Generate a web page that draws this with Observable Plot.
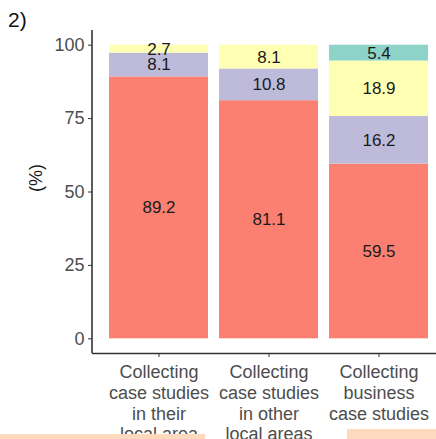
<!DOCTYPE html>
<html>
<head>
<meta charset="utf-8">
<script src="https://cdn.jsdelivr.net/npm/d3@7"></script>
<script src="https://cdn.jsdelivr.net/npm/@observablehq/plot@0.6"></script>
<style>
  html, body { margin: 0; padding: 0; background: #fff; }
  #wrap { position: relative; width: 436px; height: 439px; overflow: hidden; font-family: "Liberation Sans", Arial, sans-serif; }
  #tag { position: absolute; left: 8px; top: 8px; font-size: 21px; color: #111; }
  .strip { position: absolute; background: #FDD9BE; }
</style>
</head>
<body>
<div id="wrap">
  <div id="tag">2)</div>
  <div class="strip" style="left:0px; top:434px; width:205px; height:5px;"></div>
  <div class="strip" style="left:347px; top:429px; width:89px; height:10px;"></div>
</div>
<script>
const categories = [
  "Collecting\ncase studies\nin their\nlocal area",
  "Collecting\ncase studies\nin other\nlocal areas",
  "Collecting\nbusiness\ncase studies"
];
const series = ["s1", "s2", "s3", "s4"];
const seriesColors = ["#FB8072", "#BEBADA", "#FFFFB3", "#8DD3C7"];
const values1 = [89.2, 8.1, 2.7, 0];
const values2 = [81.1, 10.8, 8.1, 0];
const values3 = [59.5, 16.2, 18.9, 5.4];
const yTicks = [0, 25, 50, 75, 100];
const yLabel = "(%)";

const allValues = [values1, values2, values3];
const data = [];
categories.forEach((c, i) => {
  series.forEach((s, j) => {
    const v = allValues[i][j];
    if (v > 0) data.push({category: c, series: s, value: v});
  });
});

const font = '"Liberation Sans", Arial, sans-serif';

const plot = Plot.plot({
  width: 436,
  height: 439,
  marginTop: 30,
  marginBottom: 86,
  marginLeft: 92,
  marginRight: 0,
  style: {fontFamily: font, background: "white"},
  x: {domain: categories, range: [103, 434], paddingInner: 0.1, paddingOuter: 0.05, label: null},
  y: {domain: [-5, 105], nice: false, label: null},
  color: {domain: series, range: seriesColors},
  marks: [
    Plot.barY(data, Plot.stackY({x: "category", y: "value", z: "series", fill: "series"})),
    Plot.text(data, Plot.stackY({
      x: "category", y: "value", z: "series",
      text: d => d3.format(".1f")(d.value),
      fontSize: 17, fill: "#1a1a1a"
    })),
    Plot.ruleY([-5], {stroke: "#333", strokeWidth: 1.6}),
    Plot.axisX({
      tickSize: 4, tickPadding: 6, fontSize: 18, lineHeight: 1.15,
      color: "#4d4d4d", stroke: "#333", label: null
    }),
    Plot.axisY({
      ticks: yTicks, tickSize: 4, tickPadding: 4, fontSize: 18,
      color: "#4d4d4d", stroke: "#333", label: null
    }),
    Plot.text([yLabel], {frameAnchor: "left", rotate: -90, dx: -56, fontSize: 18, fill: "#1a1a1a"})
  ]
});

// vertical y-axis line along the left edge of the panel
const ys = plot.scale("y");
d3.select(plot).append("line")
  .attr("x1", 92).attr("x2", 92)
  .attr("y1", ys.apply(-5)).attr("y2", ys.apply(105))
  .attr("stroke", "#333").attr("stroke-width", 1.6);

document.getElementById("wrap").prepend(plot);
plot.style.position = "absolute";
plot.style.left = "0px";
plot.style.top = "0px";
</script>
</body>
</html>
